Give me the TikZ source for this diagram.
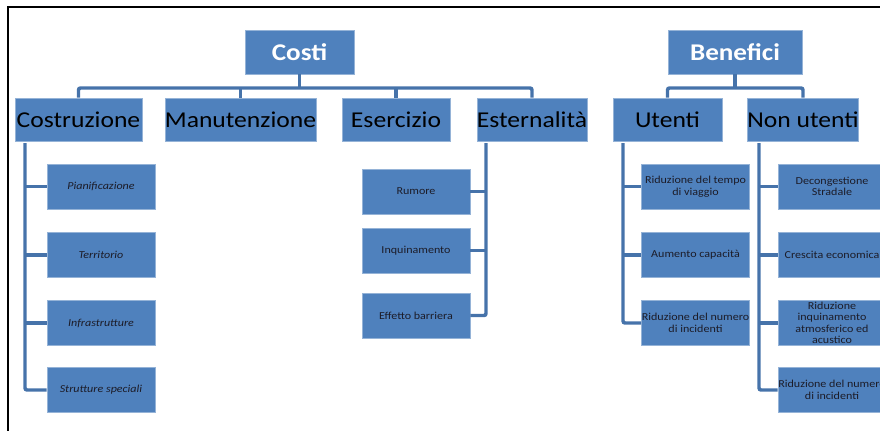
\documentclass[tikz,border=0pt]{standalone}
\usepackage{fontspec}
\setmainfont{Carlito}
\newfontfamily\widefont{Carlito}[FakeStretch=1.13]
\definecolor{boxblue}{HTML}{4F81BD}
\definecolor{lineblue}{HTML}{4673AA}
\definecolor{leaftext}{HTML}{1C1C28}
\begin{document}
\begin{tikzpicture}[x=0.75pt,y=-0.75pt,
  topbox/.style={fill=boxblue,draw=boxblue!60!white,line width=0.4pt,inner sep=0pt,
    minimum height=33pt,text=white,font=\widefont\fontsize{18}{20}\selectfont\bfseries},
  midbox/.style={fill=boxblue,draw=boxblue!60!white,line width=0.4pt,inner sep=0pt,
    minimum height=32.25pt,text=black,font=\widefont\fontsize{17}{19}\selectfont},
  leafbox/.style={fill=boxblue,draw=boxblue!60!white,line width=0.4pt,inner sep=0pt,
    minimum width=81pt,minimum height=33.75pt,text=leaftext,align=center,
    font=\widefont\fontsize{8}{8.6}\selectfont},
  ileafbox/.style={leafbox,font=\widefont\fontsize{8}{8.6}\selectfont\itshape},
  conn/.style={draw=lineblue,line width=2.6pt,rounded corners=1.5pt},
  frameline/.style={draw=black,line width=1.8pt}
]
\useasboundingbox (0,0) rectangle (880,431);
\draw[frameline] (8,431) -- (8,7) -- (880,7);

% top level
\node[topbox,minimum width=81.75pt] (costi) at (299.5,52) {Costi};
\node[topbox,minimum width=100.5pt] (benefici) at (735,52) {Benefici};

% second level
\node[midbox,minimum width=95.25pt] (costruzione) at (78.5,119.5) {Costruzione};
\node[midbox,minimum width=110.25pt] (manutenzione) at (240.5,119.5) {Manutenzione};
\node[midbox,minimum width=81pt] (esercizio) at (396,119.5) {Esercizio};
\node[midbox,minimum width=82.5pt] (esternalita) at (532,119.5) {Esternalità};
\node[midbox,minimum width=81.75pt] (utenti) at (667.5,119.5) {Utenti};
\node[midbox,minimum width=81pt] (nonutenti) at (803,119.5) {Non utenti};

% costruzione leaves
\node[ileafbox] (pian) at (101,186.5) {Pianificazione};
\node[ileafbox] (terr) at (101,255) {Territorio};
\node[ileafbox] (infra) at (101,323) {Infrastrutture};
\node[ileafbox] (strut) at (101,390) {Strutture speciali};

% esternalita leaves
\node[leafbox] (rumore) at (416,191.5) {Rumore};
\node[leafbox] (inquin) at (416,250.5) {Inquinamento};
\node[leafbox] (barriera) at (416,315.5) {Effetto barriera};

% utenti leaves
\node[leafbox] (tempo) at (695.5,186.5) {Riduzione del tempo\\di viaggio};
\node[leafbox] (capac) at (695.5,255) {Aumento capacità};
\node[leafbox] (incidU) at (695.5,323) {Riduzione del numero\\di incidenti};

% non utenti leaves
\node[leafbox] (decong) at (832,186.5) {Decongestione\\Stradale};
\node[leafbox] (cresc) at (832,255) {Crescita economica};
\node[leafbox] (inqAtm) at (832,323) {Riduzione\\inquinamento\\atmosferico ed\\acustico};
\node[leafbox] (incidN) at (832,390) {Riduzione del numero\\di incidenti};

% bus coordinates
\coordinate (cbus) at (299.5,88);
\coordinate (bbus) at (735,88);
\coordinate (sCostr) at (25,143);
\coordinate (sEst) at (486,143);
\coordinate (sUt) at (623,143);
\coordinate (sNon) at (759,143);

% costi tree
\draw[conn] (costruzione.north) -- (costruzione.north |- cbus) -- (esternalita.north |- cbus) -- (esternalita.north);
\draw[conn] (costi.south) -- (cbus);
\draw[conn] (manutenzione.north) -- (manutenzione.north |- cbus);
\draw[conn] (esercizio.north) -- (esercizio.north |- cbus);

% benefici tree
\draw[conn] (utenti.north) -- (utenti.north |- bbus) -- (nonutenti.north |- bbus) -- (nonutenti.north);
\draw[conn] (benefici.south) -- (bbus);

% costruzione spine
\draw[conn] (sCostr) -- (sCostr |- strut.west) -- (strut.west);
\draw[conn] (sCostr |- pian.west) -- (pian.west);
\draw[conn] (sCostr |- terr.west) -- (terr.west);
\draw[conn] (sCostr |- infra.west) -- (infra.west);

% esternalita spine
\draw[conn] (sEst) -- (sEst |- barriera.east) -- (barriera.east);
\draw[conn] (sEst |- rumore.east) -- (rumore.east);
\draw[conn] (sEst |- inquin.east) -- (inquin.east);

% utenti spine
\draw[conn] (sUt) -- (sUt |- incidU.west) -- (incidU.west);
\draw[conn] (sUt |- tempo.west) -- (tempo.west);
\draw[conn] (sUt |- capac.west) -- (capac.west);

% non utenti spine
\draw[conn] (sNon) -- (sNon |- incidN.west) -- (incidN.west);
\draw[conn] (sNon |- decong.west) -- (decong.west);
\draw[conn] (sNon |- cresc.west) -- (cresc.west);
\draw[conn] (sNon |- inqAtm.west) -- (inqAtm.west);
\end{tikzpicture}
\end{document}
